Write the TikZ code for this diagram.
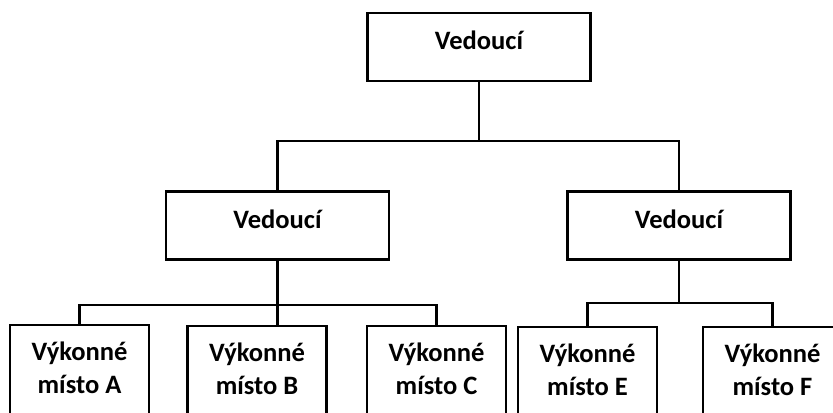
\documentclass[tikz,border=0pt]{standalone}
\usepackage{fontspec}
\setmainfont{Carlito}
\usetikzlibrary{positioning}

\begin{document}
\begin{tikzpicture}[
        x = 0.75pt, y = -0.75pt,
        Boss/.style = {rectangle, draw = black, line width = 1.8pt, inner sep = 0, minimum width = 167pt, text height = 27.5pt, text depth = 23.5pt, font = \fontsize{19.9}{24.75}\selectfont\bfseries},
        % 
        Unit/.style = {rectangle, draw = black, line width = 1.8pt, inner sep = 0, minimum width = 104pt, anchor = north, align = center, text height = 51pt, text depth = 40pt, font = \fontsize{19.9}{24.75}\selectfont\bfseries},
        % 
        Line/.style = {line width = 1.6pt},
    ]
        \useasboundingbox (0,0) rectangle (833,412);
        \clip (0,0) rectangle (833,412);

        % Head
        \node[Boss] (Head) at (479,47) {Vedoucí};

        % Leaders
        \node[Boss] (LeadLeft) at (277.5,225.5) {Vedoucí};
        \node[Boss] (LeadRight) at (679,225.5) {Vedoucí};

        % Units
        \node[Unit] (UnitA) at (79.5,324) {Výkonné\\místo A};
        \node[Unit] (UnitB) at (257,325) {Výkonné\\místo B};
        \node[Unit] (UnitC) at (436.5,325) {Výkonné\\místo C};
        \node[Unit] (UnitE) at (587.5,326) {Výkonné\\místo E};
        \node[Unit] (UnitF) at (772.5,326) {Výkonné\\místo F};

        % Bars
        \coordinate (HeadBar) at (479,141);
        \coordinate (LeftBar) at (277.5,305);
        \coordinate (RightBar) at (679,303);

        % Lines head
        \draw[Line] (Head.south) -- (HeadBar);
        \draw[Line] (LeadLeft.north) |- (HeadBar);
        \draw[Line] (LeadRight.north) |- (HeadBar);

        % Lines left
        \draw[Line] (LeadLeft.south) -- (LeadLeft.south |- UnitB.north);
        \draw[Line] (UnitA.north) |- (LeftBar);
        \draw[Line] (UnitC.north) |- (LeftBar);

        % Lines right
        \draw[Line] (LeadRight.south) -- (RightBar);
        \draw[Line] (UnitE.north) |- (RightBar);
        \draw[Line] (UnitF.north) |- (RightBar);

    \end{tikzpicture}
\end{document}
